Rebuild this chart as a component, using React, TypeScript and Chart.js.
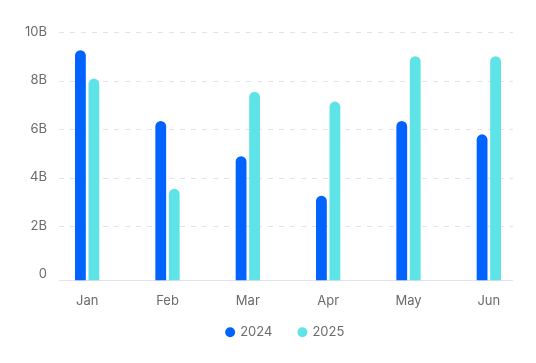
import React, { useEffect, useRef } from "react";
import { Chart, registerables } from "chart.js";

Chart.register(...registerables);

const categories = ["Jan", "Feb", "Mar", "Apr", "May", "Jun"];
const series2024 = [9.25, 6.33, 4.88, 3.25, 6.33, 5.78];
const series2025 = [8.08, 3.54, 7.54, 7.13, 9.0, 9.0];
const yTickValues = [0, 2, 4, 6, 8, 10];
const seriesNames = ["2024", "2025"];

const FONT = "Inter, 'Open Sans', sans-serif";
const TEXT = "#6b6b6b";
const GRID = "#e1e1ef";

const gridPlugin = {
  id: "customGrid",
  afterLayout(chart: any) {
    const lg = chart.legend;
    if (lg) {
      lg.left += 21;
      lg.right += 21;
      lg.top -= 11.3;
      lg.bottom -= 11.3;
    }
  },
  beforeDatasetsDraw(chart: any) {
    const { ctx, chartArea, scales } = chart;
    const y = scales.y;
    const left = chartArea.left + 12;
    const right = chartArea.right - 16;
    ctx.save();
    ctx.lineWidth = 1;
    ctx.strokeStyle = GRID;
    ctx.setLineDash([5, 6]);
    yTickValues.forEach((v) => {
      if (v === 0) return;
      const py = Math.round(y.getPixelForValue(v)) + 0.5;
      ctx.beginPath();
      ctx.moveTo(left, py);
      ctx.lineTo(right, py);
      ctx.stroke();
    });
    ctx.setLineDash([]);
    const by = Math.round(chartArea.bottom) - 0.5;
    ctx.beginPath();
    ctx.moveTo(left, by);
    ctx.lineTo(right, by);
    ctx.stroke();
    ctx.restore();
  },
};

export default function App() {
  const ref = useRef<HTMLCanvasElement | null>(null);
  useEffect(() => {
    if (!ref.current) return;
    const base = -0.25;
    const chart = new Chart(ref.current, {
      type: "bar",
      data: {
        labels: categories,
        datasets: [
          {
            label: seriesNames[0],
            data: series2024,
            backgroundColor: "#0062ff",
            borderRadius: 6,
            borderSkipped: "start",
            base,
            barPercentage: 0.8,
            categoryPercentage: 0.336,
          } as any,
          {
            label: seriesNames[1],
            data: series2025,
            backgroundColor: "#5ee3e6",
            borderRadius: 6,
            borderSkipped: "start",
            base,
            barPercentage: 0.8,
            categoryPercentage: 0.336,
          } as any,
        ],
      },
      options: {
        animation: false,
        responsive: false,
        maintainAspectRatio: false,
        layout: { padding: { top: 32, left: 0, right: 7, bottom: 2.9 } },
        plugins: {
          tooltip: { enabled: false },
          legend: {
            position: "bottom",
            labels: {
              usePointStyle: true,
              pointStyle: "circle",
              boxWidth: 7,
              boxHeight: 7,
              padding: 26.5,
              color: TEXT,
              font: { family: FONT, size: 13 },
            },
          },
        },
        scales: {
          x: {
            grid: { display: false, drawTicks: false },
            border: { display: false },
            ticks: {
              color: TEXT,
              font: { family: FONT, size: 13 },
              padding: 13,
            },
            afterFit(scale: any) {
              scale.height = 30;
            },
          },
          y: {
            min: base,
            max: 10,
            grid: { display: false, drawTicks: false },
            border: { display: false },
            afterBuildTicks(scale: any) {
              scale.ticks = yTickValues.map((v) => ({ value: v }));
            },
            afterFit(scale: any) {
              scale.width = 47;
            },
            ticks: {
              color: TEXT,
              padding: 0,
              font: { family: FONT, size: 13 },
              callback: (v: any) => (Number(v) === 0 ? "0" : `${v}B`),
            },
          },
        },
      },
      plugins: [gridPlugin],
    });
    return () => chart.destroy();
  }, []);
  return (
    <div
      style={{
        position: "fixed",
        left: 0,
        top: 0,
        width: 536,
        height: 363,
        background: "#fff",
      }}
    >
      <canvas ref={ref} width={536} height={363} />
    </div>
  );
}
